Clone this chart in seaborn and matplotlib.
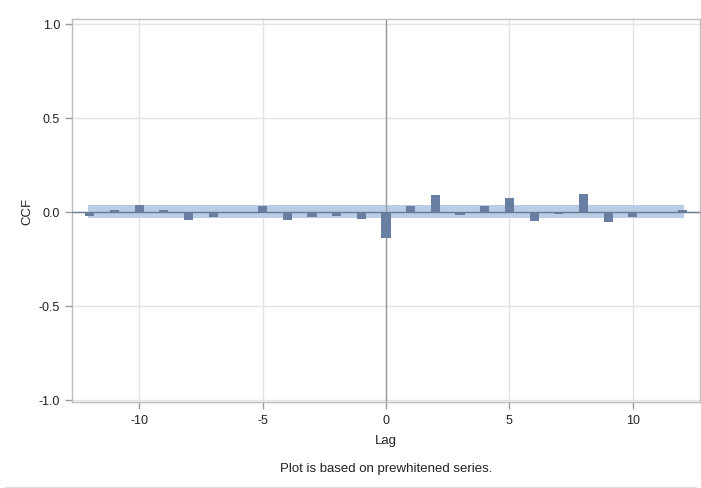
import matplotlib
matplotlib.use("Agg")
import matplotlib.pyplot as plt
import seaborn as sns
import pandas as pd

lags = list(range(-12, 13))
ccf = [-0.023, 0.012, 0.035, 0.012, -0.043, -0.028, 0.0, 0.030, -0.043, -0.030,
       -0.023, -0.037, -0.142, 0.030, 0.089, -0.018, 0.030, 0.071, -0.048, -0.012,
       0.096, -0.053, -0.030, 0.0, 0.012]
band = 0.034
xticks = [-10, -5, 0, 5, 10]
yticks = [-1.0, -0.5, 0.0, 0.5, 1.0]

sns.set_theme(style="white")
plt.rcParams['font.family'] = ['Liberation Sans', 'DejaVu Sans']

fig = plt.figure(figsize=(7.01, 4.89), dpi=100)
ax = fig.add_axes([72/701, 1-403.3/489, (700-72)/701, (403.3-20)/489])

df = pd.DataFrame({"Lag": lags, "CCF": ccf})
ax.fill_between([-12.07, 12.07], -band, band, color="#b9cde6", zorder=1, linewidth=0)
sns.barplot(data=df, x="Lag", y="CCF", native_scale=True, width=0.37,
            color="#687ea3", saturation=1, ax=ax, zorder=3, linewidth=0)
ax.axhline(0, color="#6a7a90", lw=1, zorder=4)
ax.axvline(0, color="#9a9a9a", lw=1, zorder=2)

ax.set_xlim(-12.72, 12.72)
ax.set_ylim(-1.014, 1.026)
ax.set_xticks(xticks)
ax.set_xticklabels([f"{t}" for t in xticks])
ax.set_yticks(yticks)
ax.set_yticklabels([f"{t:.1f}" for t in yticks])
ax.grid(True, color="#e3e3e3", lw=1, zorder=0)
ax.set_axisbelow(True)
for s in ax.spines.values():
    s.set_color("#bcbcbc")
    s.set_linewidth(1)
ax.tick_params(axis="both", which="major", length=5, width=1, color="#9a9a9a",
               labelsize=9, labelcolor="#222222", direction="out", bottom=True, left=True)
ax.set_xlabel("Lag", fontsize=9.5, color="#222222", labelpad=6)
ax.set_ylabel("CCF", fontsize=9.5, color="#222222", labelpad=4)
fig.text(386/701, 1-469/489, "Plot is based on prewhitened series.", ha="center",
         va="center", fontsize=9.5, color="#222222")
fig.add_artist(plt.Line2D([5/701, 696/701], [1-487.5/489, 1-487.5/489], color="#e0e0e0", lw=1))
fig.savefig("out.png", dpi=100, facecolor="white")
